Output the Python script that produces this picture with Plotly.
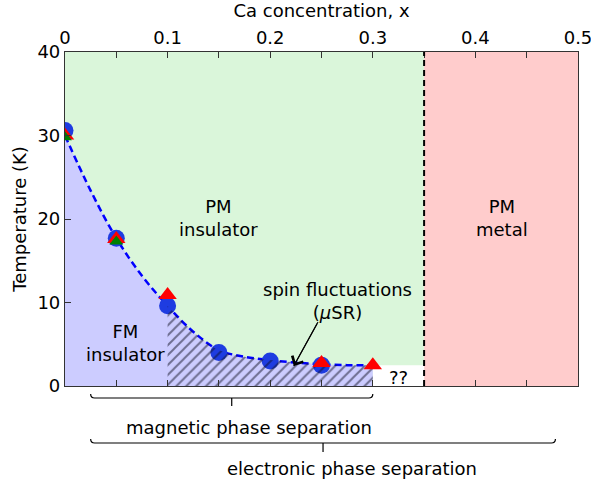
import plotly.graph_objects as go

# ---- data ----
x_tick_vals = [0, 0.05, 0.1, 0.15, 0.2, 0.25, 0.3, 0.35, 0.4, 0.45, 0.5]
x_tick_text = ["0", "", "0.1", "", "0.2", "", "0.3", "", "0.4", "", "0.5"]
y_tick_vals = [0, 10, 20, 30, 40]

# Curie temperature boundary
curve_x = [0, 0.025, 0.05, 0.075, 0.1, 0.125, 0.15, 0.175, 0.2, 0.225, 0.25, 0.275, 0.3]
curve_y = [30.0, 23.4, 17.7, 13.2, 9.6, 6.5, 4.3, 3.5, 3.1, 2.8, 2.6, 2.5, 2.5]

blue_x = [0, 0.05, 0.1, 0.15, 0.2, 0.25]
blue_y = [30.6, 17.7, 9.6, 4.0, 3.0, 2.5]
red_x = [0, 0.05, 0.1, 0.25, 0.3]
red_y = [30.0, 17.6, 10.9, 2.75, 2.5]
green_x = [0, 0.05]
green_y = [29.8, 17.3]

x_range = [0, 0.5]
y_range = [0, 40]
metal_boundary = 0.35
hatch_start = 0.1
unknown_top = 2.5

magnetic_ps = [0.025, 0.3]
electronic_ps = [0.025, 0.478]

# arrow pointing to the spin-fluctuation region
arrow_head = (0.223, 2.4)
arrow_tail = (0.2466, 7.66)

# ---- geometry helpers (pixel layout) ----
W, H = 591, 480
ML, MR, MT, MB = 65, 13, 52, 94
PW = W - ML - MR
PH = H - MT - MB


def xp(x):
    return (x - x_range[0]) / (x_range[1] - x_range[0])


def yp_px(py):
    return (H - MB - py) / PH


def dx_px(d):
    return d / PW


def bracket_path(xa, xb, py, tick):
    a, b = xp(xa), xp(xb)
    y = yp_px(py)
    yu = yp_px(py - 4)
    r = dx_px(4)
    c = (a + b) / 2
    yt = yp_px(py + tick)
    return (f"M {a},{yu} Q {a},{y} {a + r},{y} L {b - r},{y} Q {b},{y} {b},{yu} "
            f"M {c},{y} L {c},{yt}")


fig = go.Figure()

hx = [x for x in curve_x if x >= hatch_start]
hy = [y for x, y in zip(curve_x, curve_y) if x >= hatch_start]

# blue FM region under the boundary
fig.add_trace(go.Scatter(x=curve_x, y=curve_y, mode="lines", line=dict(width=0, shape="spline"),
                         fill="tozeroy", fillcolor="#ccccff", hoverinfo="skip"))
fig.add_trace(go.Scatter(x=curve_x, y=curve_y, mode="lines",
                         line=dict(color="#0000ff", width=2.5, dash="7px,4px", shape="spline")))
fig.add_trace(go.Scatter(x=blue_x, y=blue_y, mode="markers",
                         marker=dict(symbol="circle", size=17, color="rgb(30,60,225)", line=dict(width=0))))
# hatched spin-fluctuation region (drawn over the circles)
fig.add_trace(go.Scatter(x=hx, y=hy, mode="lines", line=dict(width=0, shape="spline"),
                         fill="tozeroy", fillcolor="rgba(0,0,0,0)",
                         fillpattern=dict(shape="/", size=7, solidity=0.28,
                                          fgcolor="#101022", bgcolor="rgba(0,0,0,0)"),
                         hoverinfo="skip"))
fig.add_trace(go.Scatter(x=red_x, y=red_y, mode="markers",
                         marker=dict(symbol="triangle-up", size=16, color="#ff0000", line=dict(width=0))))
fig.add_trace(go.Scatter(x=green_x, y=green_y, mode="markers",
                         marker=dict(symbol="triangle-up", size=12, color="#008000", line=dict(width=0))))

shapes = [
    dict(type="rect", xref="x", yref="y", x0=x_range[0], x1=metal_boundary, y0=y_range[0], y1=y_range[1],
         fillcolor="#daf6da", line=dict(width=0), layer="below"),
    dict(type="rect", xref="x", yref="y", x0=metal_boundary, x1=x_range[1], y0=y_range[0], y1=y_range[1],
         fillcolor="#ffcccc", line=dict(width=0), layer="below"),
    dict(type="rect", xref="x", yref="y", x0=curve_x[-1], x1=metal_boundary, y0=y_range[0], y1=unknown_top,
         fillcolor="#ffffff", line=dict(width=0), layer="below"),
    dict(type="line", xref="x", yref="y", x0=metal_boundary, x1=metal_boundary, y0=y_range[0], y1=y_range[1],
         line=dict(color="black", width=2, dash="6px,4px")),
    dict(type="line", xref="x", yref="y", x0=arrow_tail[0], y0=arrow_tail[1],
         x1=arrow_head[0], y1=arrow_head[1], line=dict(color="black", width=1.1)),
    dict(type="path", xref="paper", yref="paper", path=bracket_path(*magnetic_ps, 398, 8),
         line=dict(color="black", width=1.2)),
    dict(type="path", xref="paper", yref="paper", path=bracket_path(*electronic_ps, 443, 9),
         line=dict(color="black", width=1.2)),
]

F = "DejaVu Sans"
FS = 18
ann = [
    dict(x=0.15, y=20.1, text="PM<br>insulator"),
    dict(x=0.426, y=20.1, text="PM<br>metal"),
    dict(x=0.0585, y=5.2, text="FM<br>insulator"),
    dict(x=0.266, y=10.2, text="spin fluctuations<br>(<i>μ</i>SR)"),
    dict(x=0.3255, y=1.0, text="??"),
]
annotations = [dict(xref="x", yref="y", showarrow=False, xanchor="center", yanchor="middle",
                    font=dict(family=F, size=FS, color="black"), **a)
               for a in ann]
annotations.append(dict(xref="x", yref="y", x=arrow_head[0], y=arrow_head[1],
                        ax=arrow_tail[0], ay=arrow_tail[1], axref="x", ayref="y",
                        text="", font=dict(size=1), showarrow=True, arrowhead=4, arrowsize=2.2,
                        arrowwidth=1.1, arrowcolor="black"))
annotations.append(dict(xref="paper", yref="paper", x=xp(sum(magnetic_ps) / 2) + dx_px(17), y=yp_px(427),
                        xanchor="center", yanchor="middle",
                        text="magnetic phase separation", showarrow=False,
                        font=dict(family=F, size=FS, color="black")))
annotations.append(dict(xref="paper", yref="paper", x=xp(sum(electronic_ps) / 2) + dx_px(29), y=yp_px(468),
                        xanchor="center", yanchor="middle",
                        text="electronic phase separation", showarrow=False,
                        font=dict(family=F, size=FS, color="black")))

fig.update_layout(
    width=W, height=H,
    margin=dict(l=ML, r=MR, t=MT, b=MB),
    paper_bgcolor="white", plot_bgcolor="white",
    showlegend=False,
    shapes=shapes,
    annotations=annotations,
    font=dict(family=F, size=FS, color="black"),
    xaxis=dict(range=x_range, side="top", tickvals=x_tick_vals, ticktext=x_tick_text,
               ticks="inside", ticklen=6, tickcolor="#333", showgrid=False, zeroline=False,
               showline=True, linecolor="#333", linewidth=1.2, mirror="ticks", automargin=False,
               ticklabeloverflow="allow",
               title=dict(text="Ca concentration, x", standoff=6, font=dict(size=FS)),
               tickfont=dict(size=FS)),
    yaxis=dict(range=y_range, tickvals=y_tick_vals, ticks="inside", ticklen=6, tickcolor="#333",
               showgrid=False, zeroline=False, showline=True, linecolor="#333", linewidth=1.2,
               mirror=True, automargin=False, ticklabeloverflow="allow",
               title=dict(text="Temperature (K)", standoff=6, font=dict(size=FS)),
               tickfont=dict(size=FS)),
)

fig.write_html("out.html")
